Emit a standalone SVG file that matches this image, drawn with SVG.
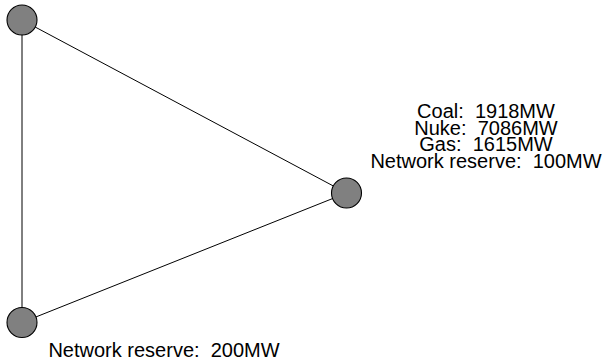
<svg xmlns="http://www.w3.org/2000/svg" width="610" height="361" viewBox="0 0 610 361">
<style>
.edge{stroke:#000;stroke-width:1;fill:none}
.node{fill:#808080;stroke:#000;stroke-width:1.1}
.lbl{font-family:"Liberation Sans",Arial,sans-serif;font-size:20px;fill:#000;text-anchor:middle;white-space:pre}
</style>
<rect width="610" height="361" fill="#fff"/>
<g id="connectors">
<line class="edge" x1="22" y1="20" x2="346.5" y2="193"/>
<line class="edge" x1="346.5" y1="193" x2="22" y2="322.5"/>
<line class="edge" x1="22" y1="20" x2="22" y2="322.5"/>
</g>
<g id="node-top">
<circle class="node" cx="22" cy="20" r="15"/>
</g>
<g id="node-right">
<circle class="node" cx="346.5" cy="193" r="15"/>
<text class="lbl" xml:space="preserve" x="486" y="118.3">Coal:  1918MW</text>
<text class="lbl" xml:space="preserve" x="486" y="135">Nuke:  7086MW</text>
<text class="lbl" xml:space="preserve" x="486" y="151.3">Gas:  1615MW</text>
<text class="lbl" xml:space="preserve" x="486" y="168.3">Network reserve:  100MW</text>
</g>
<g id="node-bottom">
<circle class="node" cx="22" cy="322.5" r="15"/>
<text class="lbl" xml:space="preserve" x="164" y="357">Network reserve:  200MW</text>
</g>
</svg>
